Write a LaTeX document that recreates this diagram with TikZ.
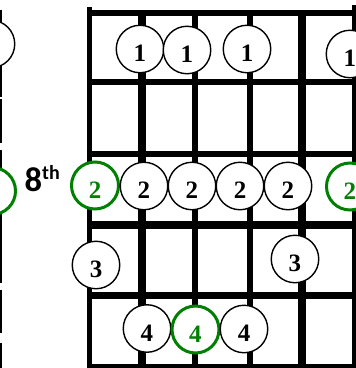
\documentclass[tikz,border=0pt]{standalone}
\usepackage{fontspec}
\setmainfont{Liberation Serif}
\newfontfamily\labelfont{Carlito}
\definecolor{fretgreen}{RGB}{0,128,0}
\tikzset{
  fretline/.style={line width=6.2pt},
  stringline/.style={line width=5.7pt},
  dot/.style={circle, draw=black, line width=1.4pt, fill=white,
    minimum size=47.5pt, inner sep=0pt,
    font=\fontsize{25}{25}\selectfont\bfseries,
    text height=25.4pt, text depth=0pt},
  rootdot/.style={dot, draw=fretgreen, text=fretgreen, line width=3pt, minimum size=47pt},
  edgeline/.style={line width=1.6pt},
}
\begin{document}
\begin{tikzpicture}[x=1pt,y=-1pt]
\useasboundingbox (0,0) rectangle (356,368);
\clip (0,0) rectangle (356,368);
% remains of the neighbouring diagram
\draw[edgeline] (0.8,10) -- (0.8,97) (0.8,99) -- (0.8,143) (0.8,150) -- (0.8,215)
  (0.8,215) -- (0.8,283) (0.8,290) -- (0.8,333) (0.8,343) -- (0.8,368);
\node[dot] (prevA) at (-9,44) {};
\node[rootdot] (prevB) at (-8,191) {};
% frets
\draw[fretline] (86.7,13) -- (360,13);
\draw[fretline] (86.7,82) -- (360,82);
\draw[fretline] (86.7,154) -- (360,154);
\draw[line width=8pt] (86.7,224.5) -- (360,224.5);
\draw[fretline] (86.7,295.5) -- (360,295.5);
\draw[fretline] (86.7,367) -- (360,367);
% strings
\draw[line width=5pt] (89.5,6.5) -- (89.5,368);
\draw[line width=8pt] (142.5,13) -- (142.5,368);
\draw[stringline] (195,13) -- (195,368);
\draw[stringline] (250,13) -- (250,368);
\draw[line width=8pt] (302,15) -- (302,368);
\draw[line width=5pt] (355,5) -- (355,368);
% fret label
\node[anchor=base west, inner sep=0pt, font=\labelfont\bfseries] (fretlabel) at (24.5,191.7)
  {\fontsize{34.5}{34.5}\selectfont 8\raisebox{12.7pt}{\fontsize{20}{20}\selectfont th}};
% row 1
\node[dot] (a1) at (140,49) {1};
\node[dot] (a2) at (187,50) {1};
\node[dot] (a3) at (247,49) {1};
\node[dot] (a4) at (350,54) {1};
% row 2
\node[rootdot] (b1) at (95,185.5) {2};
\node[dot] (b2) at (144,186) {2};
\node[dot] (b3) at (192,186) {2};
\node[dot] (b4) at (240,186) {2};
\node[dot] (b5) at (288,186) {2};
\node[rootdot] (b6) at (350,186.5) {2};
% row 3
\node[dot] (c1) at (96,265) {3};
\node[dot] (c2) at (295,259) {3};
% row 4
\node[dot] (d1) at (147,328.5) {4};
\node[rootdot] (d2) at (195.5,329.5) {4};
\node[dot] (d3) at (244,329) {4};
\end{tikzpicture}
\end{document}
